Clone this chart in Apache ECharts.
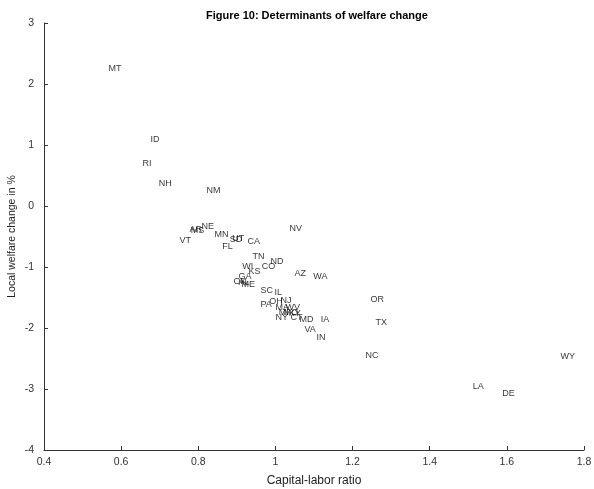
<!DOCTYPE html>
<html><head><meta charset="utf-8">
<script src="https://cdn.jsdelivr.net/npm/echarts@6/dist/echarts.min.js"></script>
<style>html,body{margin:0;padding:0;background:#fff}#c{width:594px;height:489px}</style>
</head><body><div id="c"></div>
<script>
const states = ["MT","ID","RI","NH","NM","NV","AR","MS","NE","MN","SD","UT","CA","VT","FL","TN","ND","CO","WI","KS","AZ","WA","GA","OK","AL","ME","SC","IL","OR","PA","OH","NJ","MA","MI","NY","WV","MO","KY","CT","MD","IA","VA","IN","TX","NC","WY","LA","DE"];
const capitalLabor = [0.566,0.675,0.654,0.696,0.820,1.035,0.776,0.779,0.807,0.841,0.880,0.887,0.926,0.750,0.861,0.939,0.986,0.963,0.913,0.929,1.048,1.097,0.903,0.890,0.903,0.911,0.960,0.996,1.245,0.960,0.983,1.012,0.999,1.007,0.999,1.025,1.020,1.033,1.038,1.061,1.116,1.074,1.105,1.258,1.232,1.738,1.510,1.587];
const welfareChange = [2.246,1.098,0.689,0.361,0.262,-0.377,-0.393,-0.41,-0.344,-0.475,-0.557,-0.525,-0.590,-0.574,-0.656,-0.820,-0.902,-0.984,-1.0,-1.082,-1.115,-1.148,-1.148,-1.246,-1.262,-1.295,-1.393,-1.426,-1.541,-1.607,-1.574,-1.557,-1.672,-1.754,-1.836,-1.672,-1.738,-1.770,-1.820,-1.869,-1.869,-2.033,-2.148,-1.902,-2.459,-2.475,-2.967,-3.082];
const xTicks = [0.4,0.6,0.8,1,1.2,1.4,1.6,1.8];
const yTicks = [-4,-3,-2,-1,0,1,2,3];

const chart = echarts.init(document.getElementById('c'), null, {renderer:'canvas'});
const data = states.map((s,i)=>({name:s, value:[capitalLabor[i], welfareChange[i]]}));
const font = 'Liberation Sans, Arial, sans-serif';
chart.setOption({
  animation:false,
  backgroundColor:'#fff',
  title:{text:'Figure 10: Determinants of welfare change', left:201, top:5,
    textStyle:{fontFamily:font, fontSize:11, fontWeight:'bold', color:'#000'}},
  grid:{left:44, right:10, top:23, bottom:39, containLabel:false, outerBoundsMode:'none'},
  xAxis:{type:'value', min:xTicks[0], max:xTicks[xTicks.length-1], interval:0.2,
    name:'Capital-labor ratio', nameLocation:'middle', nameGap:25, nameMoveOverlap:false,
    nameTextStyle:{fontFamily:font, fontSize:12, color:'#222'},
    axisLine:{show:true, onZero:false, lineStyle:{color:'#333', width:1}},
    axisTick:{show:true, inside:true, length:4, lineStyle:{color:'#333'}},
    axisLabel:{fontFamily:font, fontSize:10.5, color:'#333', margin:7,
      formatter:v=>String(Math.round(v*10)/10)},
    splitLine:{show:false}},
  yAxis:{type:'value', min:yTicks[0], max:yTicks[yTicks.length-1], interval:1,
    name:'Local welfare change in %', nameLocation:'middle', nameGap:26, nameRotate:90, nameMoveOverlap:false,
    nameTextStyle:{fontFamily:font, fontSize:10.5, color:'#222'},
    axisLine:{show:true, onZero:false, lineStyle:{color:'#333', width:1}},
    axisTick:{show:true, inside:true, length:4, lineStyle:{color:'#333'}},
    axisLabel:{fontFamily:font, fontSize:10.5, color:'#333', margin:10},
    splitLine:{show:false}},
  series:[{type:'scatter', data:data, symbolSize:1, itemStyle:{color:'rgba(0,0,0,0)'},
    label:{show:true, position:'right', distance:0, formatter:p=>p.name,
      fontFamily:font, fontSize:9, color:'#000', align:'left', verticalAlign:'middle'},
    labelLayout:{hideOverlap:false}}]
});
</script></body></html>
